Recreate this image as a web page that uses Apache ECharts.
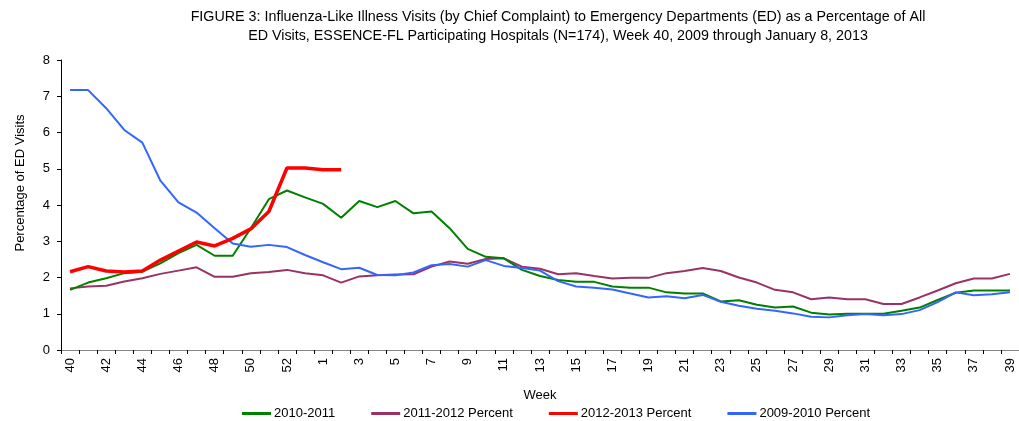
<!DOCTYPE html>
<html>
<head>
<meta charset="utf-8">
<script src="https://cdn.jsdelivr.net/npm/echarts@6/dist/echarts.min.js"></script>
<style>
  html, body { margin: 0; padding: 0; background: #fff; }
  #chart { width: 1019px; height: 421px; }
</style>
</head>
<body>
<div id="chart"></div>
<script>
// Weeks: 40..53 then 1..39
const weeks = ['40','41','42','43','44','45','46','47','48','49','50','51','52','53',
  '1','2','3','4','5','6','7','8','9','10','11','12','13','14','15','16','17','18','19','20',
  '21','22','23','24','25','26','27','28','29','30','31','32','33','34','35','36','37','38','39'];

const s2010_2011 = [1.66,1.86,1.98,2.12,2.16,2.39,2.67,2.90,2.60,2.60,3.36,4.16,4.40,4.21,
  4.03,3.65,4.11,3.94,4.11,3.77,3.82,3.36,2.79,2.57,2.53,2.21,2.04,1.93,1.88,1.88,
  1.75,1.72,1.72,1.59,1.56,1.56,1.34,1.37,1.25,1.17,1.20,1.03,0.98,1.00,1.00,1.00,
  1.08,1.17,1.38,1.58,1.64,1.64,1.64];

const s2011_2012 = [1.70,1.75,1.77,1.89,1.98,2.10,2.19,2.28,2.02,2.02,2.12,2.15,2.21,2.12,
  2.06,1.86,2.03,2.06,2.08,2.09,2.30,2.44,2.38,2.51,2.53,2.30,2.24,2.09,2.12,2.04,
  1.97,1.99,1.99,2.12,2.18,2.26,2.18,2.00,1.86,1.66,1.59,1.40,1.45,1.40,1.40,1.27,
  1.27,1.45,1.64,1.84,1.97,1.97,2.10];

const s2012_2013 = [2.16,2.30,2.18,2.15,2.18,2.48,2.73,2.98,2.87,3.08,3.34,3.82,5.02,5.02,
  4.97,4.97];

const s2009_2010 = [7.17,7.17,6.67,6.07,5.72,4.67,4.07,3.79,3.36,2.94,2.85,2.90,2.84,2.62,
  2.42,2.23,2.27,2.07,2.06,2.14,2.34,2.37,2.30,2.48,2.32,2.26,2.19,1.90,1.75,1.72,
  1.67,1.56,1.45,1.48,1.43,1.52,1.33,1.22,1.14,1.08,1.01,0.92,0.90,0.96,0.99,0.96,
  0.99,1.10,1.32,1.59,1.51,1.54,1.59];

const seriesNames = ['2010-2011','2011-2012 Percent','2012-2013 Percent','2009-2010 Percent'];
const yTicks = { min: 0, max: 8, interval: 1 };

const chart = echarts.init(document.getElementById('chart'), null, { renderer: 'canvas' });
const baseFont = 'Liberation Sans, Arial, sans-serif';

chart.setOption({
  animation: false,
  backgroundColor: '#ffffff',
  title: {
    text: 'FIGURE 3: Influenza-Like Illness Visits (by Chief Complaint) to Emergency Departments (ED) as a Percentage of All\nED Visits, ESSENCE-FL Participating Hospitals (N=174), Week 40, 2009 through January 8, 2013',
    left: 553,
    textAlign: 'center',
    top: 3,
    textStyle: {
      fontFamily: '"Liberation Sans Narrow", "Arial Narrow", "Liberation Sans", sans-serif',
      fontSize: 14.3,
      fontWeight: 'normal',
      color: '#000',
      lineHeight: 19
    }
  },
  graphic: [{
    type: 'text',
    x: 20,
    y: 183,
    rotation: Math.PI / 2,
    style: {
      text: 'Percentage of ED Visits',
      fontFamily: baseFont,
      fontSize: 13,
      fill: '#000',
      textAlign: 'center',
      textVerticalAlign: 'middle'
    }
  }],
  legend: {
    left: 237,
    top: 402,
    icon: 'rect',
    itemWidth: 29,
    itemHeight: 3,
    itemGap: 36,
    textStyle: { fontFamily: baseFont, fontSize: 13, color: '#000', padding: [0,0,0,-2] },
    data: seriesNames
  },
  grid: {
    left: 61,
    top: 60,
    width: 964.6,
    height: 290,
    containLabel: false
  },
  xAxis: {
    type: 'category',
    data: weeks,
    boundaryGap: true,
    name: 'Week',
    nameLocation: 'middle',
    nameGap: 39,
    nameTextStyle: { fontFamily: baseFont, fontSize: 13, color: '#000', verticalAlign: 'top' },
    axisLine: { lineStyle: { color: '#868686', width: 1 } },
    axisTick: { show: true, interval: 0, length: 4, lineStyle: { color: '#000' } },
    axisLabel: {
      interval: 1,
      rotate: 90,
      margin: 8,
      fontFamily: baseFont,
      fontSize: 13,
      color: '#000'
    },
    splitLine: { show: false }
  },
  yAxis: {
    type: 'value',
    min: yTicks.min,
    max: yTicks.max,
    interval: yTicks.interval,
    axisLine: { show: true, lineStyle: { color: '#000', width: 1 } },
    axisTick: { show: true, length: 4, lineStyle: { color: '#000' } },
    axisLabel: { margin: 11, fontFamily: baseFont, fontSize: 13, color: '#000' },
    splitLine: { show: false }
  },
  series: [
    { name: seriesNames[0], type: 'line', data: s2010_2011, showSymbol: false, symbol: 'none',
      lineStyle: { color: '#008000', width: 2 }, itemStyle: { color: '#008000' }, z: 3 },
    { name: seriesNames[1], type: 'line', data: s2011_2012, showSymbol: false, symbol: 'none',
      lineStyle: { color: '#993366', width: 2 }, itemStyle: { color: '#993366' }, z: 2 },
    { name: seriesNames[2], type: 'line', data: s2012_2013, showSymbol: false, symbol: 'none',
      lineStyle: { color: '#ff0000', width: 3.5 }, itemStyle: { color: '#ff0000' }, z: 5 },
    { name: seriesNames[3], type: 'line', data: s2009_2010, showSymbol: false, symbol: 'none',
      lineStyle: { color: '#3366ff', width: 2 }, itemStyle: { color: '#3366ff' }, z: 4 }
  ]
});
</script>
</body>
</html>
